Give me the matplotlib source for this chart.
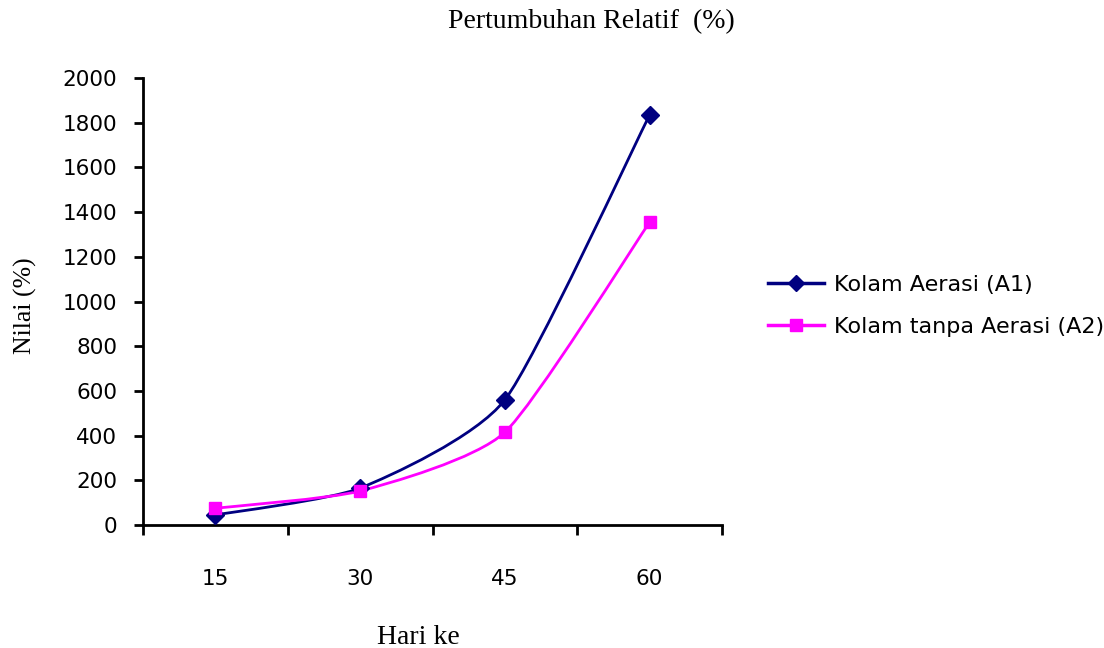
import numpy as np
import matplotlib
matplotlib.use("Agg")
import matplotlib.pyplot as plt
from matplotlib.path import Path
from matplotlib.patches import PathPatch
from matplotlib.lines import Line2D

# data
days = ["15", "30", "45", "60"]
aerasi = [45, 165, 560, 1835]          # Kolam Aerasi (A1)
tanpa_aerasi = [75, 152, 415, 1355]    # Kolam tanpa Aerasi (A2)
y_ticks = list(range(0, 2001, 200))

navy = "#000080"
magenta = "#FF00FF"


def smooth_path(xs, ys, k=0.1):
    # excel-like smoothed line: bezier segments through the data points
    pts = np.column_stack([xs, ys]).astype(float)
    n = len(pts)
    verts = [pts[0]]
    codes = [Path.MOVETO]
    for i in range(n - 1):
        p0 = pts[max(i - 1, 0)]
        p1 = pts[i]
        p2 = pts[i + 1]
        p3 = pts[min(i + 2, n - 1)]
        verts += [p1 + (p2 - p0) * k, p2 - (p3 - p1) * k, p2]
        codes += [Path.CURVE4] * 3
    return Path(verts, codes)


fig = plt.figure(figsize=(11.04, 6.48), dpi=100)
ax = fig.add_axes([143 / 1104, 1 - 525 / 648, (722 - 143) / 1104, (525 - 78) / 648])

x = np.arange(1, len(days) + 1)

for vals, col, mk, ms in [(aerasi, navy, "D", 9), (tanpa_aerasi, magenta, "s", 9)]:
    ax.add_patch(PathPatch(smooth_path(x, vals), fill=False, edgecolor=col, lw=2, zorder=2))
    ax.plot(x, vals, ls="none", marker=mk, ms=ms, color=col, mec=col, zorder=3)

ax.set_xlim(0.5, len(days) + 0.5)
ax.set_ylim(0, 2000)
ax.set_yticks(y_ticks)
ax.set_xticks(x)
ax.set_xticklabels(days)
ax.set_xticks(np.arange(0.5, len(days) + 1, 1.0), minor=True)

for s in ["top", "right"]:
    ax.spines[s].set_visible(False)
for s in ["left", "bottom"]:
    ax.spines[s].set_linewidth(2)

ax.tick_params(axis="y", direction="out", length=6.5, width=2, pad=12, labelsize=15.5)
ax.tick_params(axis="x", which="major", length=0, pad=32, labelsize=15.5)
ax.tick_params(axis="x", which="minor", direction="out", length=7, width=2)

fig.text(591 / 1104, 1 - 22 / 648, "Pertumbuhan Relatif  (%)", family="Liberation Serif",
         fontsize=20, ha="center", va="center")
fig.text(418 / 1104, 1 - 637 / 648, "Hari ke", family="Liberation Serif",
         fontsize=20, ha="center", va="center")
fig.text(25 / 1104, 1 - 306 / 648, "Nilai (%)", family="Liberation Serif",
         fontsize=18.5, ha="center", va="center", rotation=90)

handles = [
    Line2D([], [], color=navy, lw=2.5, marker="D", ms=8, label="Kolam Aerasi (A1)"),
    Line2D([], [], color=magenta, lw=2.5, marker="s", ms=8, label="Kolam tanpa Aerasi (A2)"),
]
fig.legend(handles=handles, loc="center left", bbox_to_anchor=(748 / 1104, 1 - 306 / 648),
           frameon=False, fontsize=16, handlelength=2.5, handletextpad=0.45,
           labelspacing=1.0)

plt.savefig("out.png", dpi=100)
